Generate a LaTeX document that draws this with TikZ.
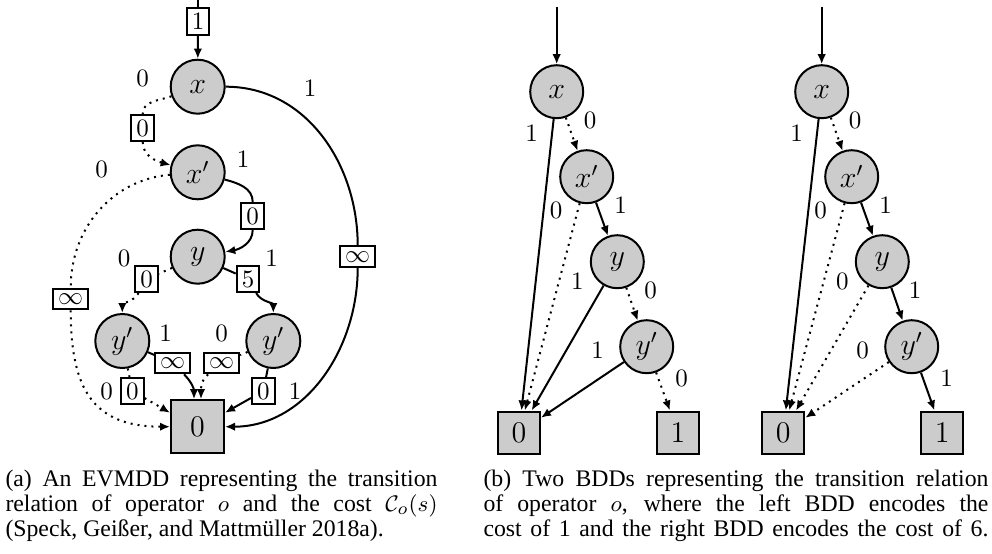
\documentclass[tikz,border=0pt]{standalone}
\usepackage{amsmath}
\usepackage{amssymb}
\usepackage{fontspec}
\newfontfamily\capfont{Liberation Serif}
\usetikzlibrary{arrows.meta}
\usetikzlibrary{positioning}
\tikzset{
evnode/.style = { circle, draw = black, fill = black!20, thick, minimum size = 21.6pt, inner sep = 0pt, font = \large },
bddnode/.style = { circle, draw = black, fill = black!20, thick, minimum size = 21.2pt, inner sep = 0pt, font = \large },
evterm/.style = { rectangle, draw = black, fill = black!20, thick, minimum size = 21.2pt, inner sep = 0pt, font = \fontsize{13}{15}\selectfont },
bddterm/.style = { rectangle, draw = black, fill = black!20, thick, minimum size = 16.8pt, inner sep = 0pt, font = \large },
val/.style = { rectangle, draw = black, fill = white, thick, inner sep = 2pt },
lbl/.style = { draw = none, fill = none, inner sep = 0pt },
hi/.style = { -{Latex[length=4pt, width=3.4pt]} },
lo/.style = { dotted },
capline/.style = { inner sep = 0pt, anchor = base west, font = \capfont\fontsize{9.5}{10}\selectfont },
}

\begin{document}
\begin{tikzpicture}[x=0.4pt, y=-0.4pt]
      \useasboundingbox (0,0) rectangle (992,553);
      % (a) EVMDD
      \begin{scope}
        \coordinate (etop) at (198,0);
        \node[evnode] (ex) at (197.7,86.7) {$x$};
        \node[evnode] (exp) at (197.7,172.3) {$x'$};
        \node[evnode] (ey) at (197.7,256.7) {$y$};
        \node[evnode] (eyl) at (122.3,341) {$y'$};
        \node[evnode] (eyr) at (273.3,341) {$y'$};
        \node[evterm] (eterm) at (197.5,426.7) {$0$};
      \end{scope}
      \begin{scope}[every node/.style={val}]
        \node (v1) at (198,21.5) {$1$};
        \node (vxx) at (142.7,128) {$0$};
        \node (vxy) at (252.7,216) {$0$};
        \node (vyl) at (146.7,279) {$0$};
        \node (vyr) at (248,279) {$5$};
        \node (vinfl) at (70.7,299) {$\infty$};
        \node (vinfr) at (357.7,256.7) {$\infty$};
        \node (vll) at (172.7,363) {$\infty$};
        \node (vrl) at (221.7,363) {$\infty$};
        \node (vl0) at (132.3,391) {$0$};
        \node (vr1) at (263.3,391) {$0$};
      \end{scope}
      \begin{scope}[every node/.style={lbl}]
        \node (ela) at (142.7,78) {$0$};
        \node (elb) at (310,88) {$1$};
        \node (elc) at (243,159) {$1$};
        \node (eld) at (101.7,169) {$0$};
        \node (ele) at (124,258) {$0$};
        \node (elf) at (271.7,258) {$1$};
        \node (elg) at (165.7,333) {$1$};
        \node (elh) at (221.7,333) {$0$};
        \node (eli) at (106.7,391) {$0$};
        \node (elj) at (295,391) {$1$};
      \end{scope}
      \begin{scope}[every edge/.style={draw=black, thick}]
        \path (etop) edge (v1);
        \path (v1) edge [hi] (ex);
        \path (ex) edge [lo, out=200, in=90] (vxx);
        \path (vxx) edge [lo, hi, out=-90, in=165] (exp);
        \path (ex) edge [out=0, in=90] (vinfr);
        \path (vinfr) edge [hi, out=-90, in=0] (eterm);
        \path (exp) edge [out=-15, in=90] (vxy);
        \path (vxy) edge [hi, out=-90, in=10] (ey);
        \path (exp) edge [lo, out=185, in=90] (vinfl);
        \path (vinfl) edge [lo, hi, out=-90, in=180, looseness=1.3] (eterm);
        \path (ey) edge [lo] (vyl);
        \path (vyl) edge [lo, hi, out=-120, in=90] (eyl);
        \path (ey) edge (vyr);
        \path (vyr) edge [hi, out=-60, in=90] (eyr);
        \path (eyl) edge (vll);
        \path (vll) edge [hi, out=-45, in=90] ([xshift=-1.4pt]eterm.north);
        \path (eyr) edge [lo] (vrl);
        \path (vrl) edge [lo, hi, out=-140, in=90] ([xshift=1.4pt]eterm.north);
        \path (eyl) edge [lo] (vl0);
        \path (vl0) edge [lo, hi] ([yshift=5.6pt]eterm.west);
        \path (eyr) edge (vr1);
        \path (vr1) edge [hi] ([yshift=5.6pt]eterm.east);
      \end{scope}
      % (b) left BDD, cost 1
      \begin{scope}
        \coordinate (btop) at (556.7,6.7);
        \node[bddnode] (bx) at (556.7,91.7) {$x$};
        \node[bddnode] (bxp) at (586.7,176.7) {$x'$};
        \node[bddnode] (by) at (617.3,261.7) {$y$};
        \node[bddnode] (byp) at (646.7,346.7) {$y'$};
        \node[bddterm] (bz) at (519,432.5) {$0$};
        \node[bddterm] (bo) at (678,432.5) {$1$};
      \end{scope}
      \begin{scope}[every node/.style={lbl}]
        \node (bla) at (531.7,133.3) {$1$};
        \node (blb) at (590,120) {$0$};
        \node (blc) at (556,210) {$0$};
        \node (bld) at (620.7,205) {$1$};
        \node (ble) at (577.3,281.7) {$1$};
        \node (blf) at (650.7,290) {$0$};
        \node (blg) at (597.7,350) {$1$};
        \node (blh) at (681.7,378.3) {$0$};
      \end{scope}
      \begin{scope}[every edge/.style={draw=black, thick}]
        \path (btop) edge [hi] (bx);
        \path (bx) edge [hi] (bz);
        \path (bx) edge [lo, hi] (bxp);
        \path (bxp) edge [lo, hi] (bz);
        \path (bxp) edge [hi] (by);
        \path (by) edge [hi] (bz);
        \path (by) edge [lo, hi] (byp);
        \path (byp) edge [hi] (bz);
        \path (byp) edge [lo, hi] (bo);
      \end{scope}
      % (b) right BDD, cost 6
      \begin{scope}
        \coordinate (ctop) at (821.7,6.7);
        \node[bddnode] (cx) at (821.7,91.7) {$x$};
        \node[bddnode] (cxp) at (851.7,176.7) {$x'$};
        \node[bddnode] (cy) at (882.3,261.7) {$y$};
        \node[bddnode] (cyp) at (911.7,346.7) {$y'$};
        \node[bddterm] (cz) at (783.3,432.5) {$0$};
        \node[bddterm] (co) at (942.3,432.5) {$1$};
      \end{scope}
      \begin{scope}[every node/.style={lbl}]
        \node (cla) at (796.7,133.3) {$1$};
        \node (clb) at (855,120) {$0$};
        \node (clc) at (820.7,210) {$0$};
        \node (cld) at (885.7,205) {$1$};
        \node (cle) at (842.3,281.7) {$0$};
        \node (clf) at (915,290) {$1$};
        \node (clg) at (862.7,350) {$0$};
        \node (clh) at (946.7,378.3) {$1$};
      \end{scope}
      \begin{scope}[every edge/.style={draw=black, thick}]
        \path (ctop) edge [hi] (cx);
        \path (cx) edge [hi] (cz);
        \path (cx) edge [lo, hi] (cxp);
        \path (cxp) edge [lo, hi] (cz);
        \path (cxp) edge [hi] (cy);
        \path (cy) edge [lo, hi] (cz);
        \path (cy) edge [hi] (cyp);
        \path (cyp) edge [lo, hi] (cz);
        \path (cyp) edge [hi] (co);
      \end{scope}
      % captions
      \node[capline] (capa1) at (5,486.7) {\makebox[172.8pt][s]{(a) An EVMDD representing the transition}};
      \node[capline] (capa2) at (5,511.7) {\makebox[172.8pt][s]{relation of operator $o$ and the cost $\mathcal{C}_o(s)$}};
      \node[capline] (capa3) at (5,536.7) {(Speck, Geißer, and Mattmüller 2018a).};
      \node[capline] (capb1) at (483,486.7) {\makebox[202pt][s]{(b) Two BDDs representing the transition relation}};
      \node[capline] (capb2) at (483,511.7) {\makebox[202pt][s]{of operator $o$, where the left BDD encodes the}};
      \node[capline] (capb3) at (483,536.7) {\makebox[202pt][s]{cost of 1 and the right BDD encodes the cost of 6.}};
\end{tikzpicture}
\end{document}
